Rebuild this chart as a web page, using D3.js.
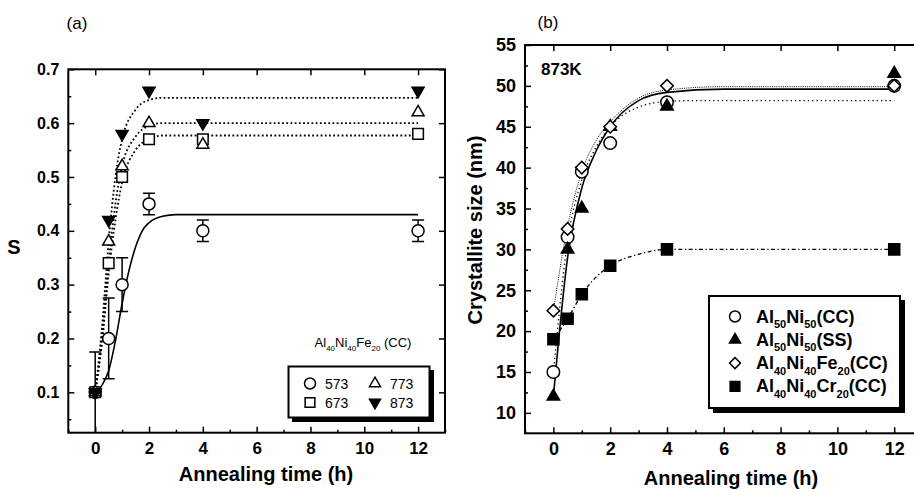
<!DOCTYPE html>
<html>
<head>
<meta charset="utf-8">
<script src="https://cdn.jsdelivr.net/npm/d3@7"></script>
<style>
  body { margin: 0; background: #fff; }
  svg { font-family: "Liberation Sans", Arial, sans-serif; }
  .tick text { font-weight: bold; }
</style>
</head>
<body>
<svg id="chart" width="914" height="491"></svg>
<script>
// ---- data, panel (a): order parameter S vs annealing time ----
var timesA = [0, 0.5, 1, 2, 4, 12];
var s573 = [0.1, 0.2, 0.3, 0.45, 0.4, 0.4];
var s573err = [0.075, 0.075, 0.05, 0.02, 0.02, 0.02];
var s673 = [0.1, 0.34, 0.5, 0.57, 0.57, 0.58];
var s773 = [0.1, 0.38, 0.52, 0.6, 0.56, 0.62];
var s873 = [0.1, 0.42, 0.58, 0.66, 0.6, 0.66];
// fitted curves as [t, S]
var fit573 = [[0, 0.1], [0.25, 0.113], [0.5, 0.14], [0.75, 0.195], [1, 0.265], [1.25, 0.325], [1.5, 0.37], [1.75, 0.4], [2, 0.415], [2.5, 0.427], [3, 0.43], [12, 0.43]];
var fit673 = [[0, 0.1], [0.25, 0.19], [0.5, 0.32], [0.75, 0.42], [1, 0.49], [1.5, 0.55], [2, 0.57], [2.5, 0.577], [12, 0.577]];
var fit773 = [[0, 0.1], [0.25, 0.2], [0.5, 0.34], [0.75, 0.45], [1, 0.52], [1.5, 0.575], [2, 0.595], [2.5, 0.6], [12, 0.6]];
var fit873 = [[0, 0.1], [0.25, 0.22], [0.5, 0.38], [0.75, 0.5], [1, 0.57], [1.5, 0.625], [2, 0.643], [2.5, 0.647], [12, 0.647]];
var ticksSA = [0.1, 0.2, 0.3, 0.4, 0.5, 0.6, 0.7];
var legendA = ['573', '673', '773', '873'];

// ---- data, panel (b): crystallite size vs annealing time ----
var timesB = [0, 0.5, 1, 2, 4, 12];
var sizeNiCC = [15, 31.5, 39.5, 43, 48, 50];
var sizeNiSS = [12, 30, 35, 45, 47.5, 51.5];
var sizeFe = [22.5, 32.5, 40, 45, 50, 50];
var sizeCr = [19, 21.5, 24.5, 28, 30, 30];
var fitNiCC = [[0, 15], [0.5, 31], [1, 38.5], [1.5, 42.5], [2, 45], [3, 47.4], [4, 48.1], [5, 48.2], [12, 48.2]];
var fitNiSS = [[0, 12], [0.5, 29], [1, 37.5], [1.5, 42], [2, 45], [3, 48.2], [4, 49.2], [6, 49.6], [12, 49.6]];
var fitFe = [[0, 22.5], [0.5, 32.8], [1, 39.5], [1.5, 43.3], [2, 45.6], [3, 48.5], [4, 49.5], [6, 49.9], [12, 49.9]];
var fitCr = [[0, 19], [0.5, 21.5], [1, 24.5], [1.5, 26.6], [2, 28], [3, 29.4], [4, 30], [6, 30], [12, 30]];
var ticksSizeB = [10, 15, 20, 25, 30, 35, 40, 45, 50, 55];
var legendB = [
  [['Al', ''], ['50', 's'], ['Ni', ''], ['50', 's'], ['(CC)', '']],
  [['Al', ''], ['50', 's'], ['Ni', ''], ['50', 's'], ['(SS)', '']],
  [['Al', ''], ['40', 's'], ['Ni', ''], ['40', 's'], ['Fe', ''], ['20', 's'], ['(CC)', '']],
  [['Al', ''], ['40', 's'], ['Ni', ''], ['40', 's'], ['Cr', ''], ['20', 's'], ['(CC)', '']]
];
var ticksTime = [0, 2, 4, 6, 8, 10, 12];

var svg = d3.select('#chart');

function richText(sel, parts, size, subSize) {
  var inSub = false;
  parts.forEach(function (p) {
    var t = sel.append('tspan').text(p[0]);
    if (p[1] === 's') {
      t.attr('font-size', subSize).attr('dy', inSub ? 0 : size * 0.3);
      inSub = true;
    } else {
      t.attr('font-size', size).attr('dy', inSub ? -size * 0.3 : 0);
      inSub = false;
    }
  });
}

// marker shapes scaled by a nominal width w
function marker(g, type, x, y, w) {
  var sym, size, rot = 0;
  if (type === 'circle') { sym = d3.symbolCircle; size = Math.PI * w * w / 4; }
  else if (type === 'square') { sym = d3.symbolSquare; size = w * w * 0.78; }
  else if (type === 'diamond') { sym = d3.symbolSquare; size = w * w * 0.5; rot = 45; }
  else { sym = d3.symbolTriangle; size = w * w * Math.sqrt(3) / 4; rot = type === 'down' ? 180 : 0; }
  return g.append('path')
    .attr('d', d3.symbol().type(sym).size(size)())
    .attr('transform', 'translate(' + x + ',' + y + ') rotate(' + rot + ')')
    .attr('stroke', '#000').attr('stroke-width', 1.5);
}

function frame(g, x, y, xt, yt, yMinor, xtLabelSize, ytLabelSize, yFmt) {
  var x0 = x.range()[0], x1 = x.range()[1], y0 = y.range()[0], y1 = y.range()[1];
  var minorX = [-1, 1, 3, 5, 7, 9, 11, 13];
  var xg = g.append('g').attr('transform', 'translate(0,' + y0 + ')')
    .call(d3.axisBottom(x).tickValues(xt).tickSize(-6).tickPadding(9));
  xg.selectAll('text').attr('font-size', xtLabelSize);
  g.append('g').attr('transform', 'translate(0,' + y0 + ')')
    .call(d3.axisBottom(x).tickValues(minorX).tickSize(-3).tickFormat(''));
  g.append('g').attr('transform', 'translate(0,' + y1 + ')')
    .call(d3.axisTop(x).tickValues(xt).tickSize(-6).tickFormat(''));
  var yg = g.append('g').attr('transform', 'translate(' + x0 + ',0)')
    .call(d3.axisLeft(y).tickValues(yt).tickSize(-6).tickPadding(9).tickFormat(yFmt));
  yg.selectAll('text').attr('font-size', ytLabelSize);
  g.append('g').attr('transform', 'translate(' + x0 + ',0)')
    .call(d3.axisLeft(y).tickValues(yMinor).tickSize(-3).tickFormat(''));
  g.append('g').attr('transform', 'translate(' + x1 + ',0)')
    .call(d3.axisRight(y).tickValues(yt).tickSize(-6).tickFormat(''));
  g.selectAll('.domain').remove();
  g.selectAll('.tick line').attr('stroke-width', 1.5);
  g.selectAll('.tick text').attr('fill', '#000').attr('font-family', '"Liberation Sans", Arial, sans-serif');
  g.append('rect').attr('x', x0).attr('y', y1).attr('width', x1 - x0).attr('height', y0 - y1)
    .attr('fill', 'none').attr('stroke', '#000').attr('stroke-width', 2);
}

// ================= panel (a) =================
var ga = svg.append('g');
var xa = d3.scaleLinear().domain([-1, 13]).range([68.3, 445]);
var ya = d3.scaleLinear().domain([0.025, 0.7]).range([432.7, 69.3]);

ga.append('clipPath').attr('id', 'clipA').append('rect')
  .attr('x', 68.3).attr('y', 69.3).attr('width', 445 - 68.3).attr('height', 432.7 - 69.3);

frame(ga, xa, ya, ticksTime, ticksSA, [0.05, 0.15, 0.25, 0.35, 0.45, 0.55, 0.65], 17, 16, d3.format('.1f'));

var lineA = d3.line().x(function (d) { return xa(d[0]); }).y(function (d) { return ya(d[1]); }).curve(d3.curveMonotoneX);
var plotA = ga.append('g').attr('clip-path', 'url(#clipA)');
plotA.append('path').attr('d', lineA(fit573)).attr('fill', 'none').attr('stroke', '#000').attr('stroke-width', 1.6);
[fit673, fit773, fit873].forEach(function (f) {
  plotA.append('path').attr('d', lineA(f)).attr('fill', 'none').attr('stroke', '#000')
    .attr('stroke-width', 1.8).attr('stroke-dasharray', '1.8,2.4');
});
// error bars for 573 K
timesA.forEach(function (t, i) {
  var cx = xa(t), lo = ya(s573[i] - s573err[i]), hi = ya(s573[i] + s573err[i]);
  plotA.append('line').attr('x1', cx).attr('x2', cx).attr('y1', lo).attr('y2', hi).attr('stroke', '#000').attr('stroke-width', 1.5);
  [lo, hi].forEach(function (yy) {
    plotA.append('line').attr('x1', cx - 6).attr('x2', cx + 6).attr('y1', yy).attr('y2', yy).attr('stroke', '#000').attr('stroke-width', 1.5);
  });
});
var seriesA = [[s573, 'circle', 'white'], [s673, 'square', 'white'], [s773, 'up', 'white'], [s873, 'down', '#000']];
seriesA.forEach(function (s) {
  s[0].forEach(function (v, i) {
    marker(ga, s[1], xa(timesA[i]), ya(v), 12).attr('fill', s[2]);
  });
});

// legend (a)
ga.append('text').attr('x', 363).attr('y', 347).attr('text-anchor', 'middle')
  .call(richText, [['Al', ''], ['40', 's'], ['Ni', ''], ['40', 's'], ['Fe', ''], ['20', 's'], [' (CC)', '']], 13, 8);
ga.append('rect').attr('x', 292).attr('y', 370).attr('width', 142).attr('height', 52).attr('fill', '#000');
ga.append('rect').attr('x', 288.5).attr('y', 366.5).attr('width', 141).attr('height', 51).attr('fill', '#fff').attr('stroke', '#000').attr('stroke-width', 2);
var legPos = [[310, 383.5], [310, 402.5], [375, 383.5], [375, 402.5]];
legendA.forEach(function (lab, i) {
  marker(ga, seriesA[i][1], legPos[i][0], legPos[i][1], 11).attr('fill', seriesA[i][2]);
  ga.append('text').attr('x', legPos[i][0] + 15).attr('y', legPos[i][1] + 5).attr('font-size', 14).text(lab);
});

ga.append('text').attr('x', 77).attr('y', 29).attr('text-anchor', 'middle').attr('font-size', 17).text('(a)');
ga.append('text').attr('x', 14).attr('y', 254).attr('text-anchor', 'middle').attr('font-size', 20).attr('font-weight', 'bold').text('S');
ga.append('text').attr('x', 266).attr('y', 481).attr('text-anchor', 'middle').attr('font-size', 20).attr('font-weight', 'bold').text('Annealing time (h)');

// ================= panel (b) =================
var gb = svg.append('g');
var xb = d3.scaleLinear().domain([-1, 13]).range([525, 922.6]);
var yb = d3.scaleLinear().domain([7.5, 55]).range([433.3, 45]);

gb.append('clipPath').attr('id', 'clipB').append('rect')
  .attr('x', 525).attr('y', 45).attr('width', 400).attr('height', 433.3 - 45);

frame(gb, xb, yb, ticksTime, ticksSizeB, d3.range(12.5, 55, 5), 18, 18, d3.format('d'));

var lineB = d3.line().x(function (d) { return xb(d[0]); }).y(function (d) { return yb(d[1]); }).curve(d3.curveMonotoneX);
var plotB = gb.append('g').attr('clip-path', 'url(#clipB)');
plotB.append('path').attr('d', lineB(fitNiCC)).attr('fill', 'none').attr('stroke', '#000').attr('stroke-width', 1.3).attr('stroke-dasharray', '1.3,3');
plotB.append('path').attr('d', lineB(fitFe)).attr('fill', 'none').attr('stroke', '#000').attr('stroke-width', 1).attr('stroke-dasharray', '1,1.2');
plotB.append('path').attr('d', lineB(fitNiSS)).attr('fill', 'none').attr('stroke', '#000').attr('stroke-width', 1.6);
plotB.append('path').attr('d', lineB(fitCr)).attr('fill', 'none').attr('stroke', '#000').attr('stroke-width', 1.3).attr('stroke-dasharray', '4,2.5,1.3,2.5');

var seriesB = [[sizeNiCC, 'circle', 'white'], [sizeNiSS, 'up', '#000'], [sizeFe, 'diamond', 'white'], [sizeCr, 'square', '#000']];
seriesB.forEach(function (s) {
  s[0].forEach(function (v, i) {
    marker(gb, s[1], xb(timesB[i]), yb(v), 12.5).attr('fill', s[2]);
  });
});

// legend (b)
gb.append('rect').attr('x', 713).attr('y', 300).attr('width', 192).attr('height', 113).attr('fill', '#000');
gb.append('rect').attr('x', 709).attr('y', 296).attr('width', 191).attr('height', 112).attr('fill', '#fff').attr('stroke', '#000').attr('stroke-width', 2);
legendB.forEach(function (parts, i) {
  var yy = 316.5 + i * 23.3;
  marker(gb, seriesB[i][1], 735, yy, 11).attr('fill', seriesB[i][2]);
  gb.append('text').attr('x', 756).attr('y', yy + 6).attr('font-weight', 'bold')
    .call(richText, parts, 18, 11);
});

gb.append('text').attr('x', 541).attr('y', 75).attr('font-size', 17).attr('font-weight', 'bold').text('873K');
gb.append('text').attr('x', 548).attr('y', 28).attr('text-anchor', 'middle').attr('font-size', 17).text('(b)');
gb.append('text').attr('transform', 'translate(482,230) rotate(-90)').attr('text-anchor', 'middle')
  .attr('font-size', 20).attr('font-weight', 'bold').text('Crystallite size (nm)');
gb.append('text').attr('x', 731).attr('y', 485).attr('text-anchor', 'middle').attr('font-size', 20).attr('font-weight', 'bold').text('Annealing time (h)');
</script>
</body>
</html>
